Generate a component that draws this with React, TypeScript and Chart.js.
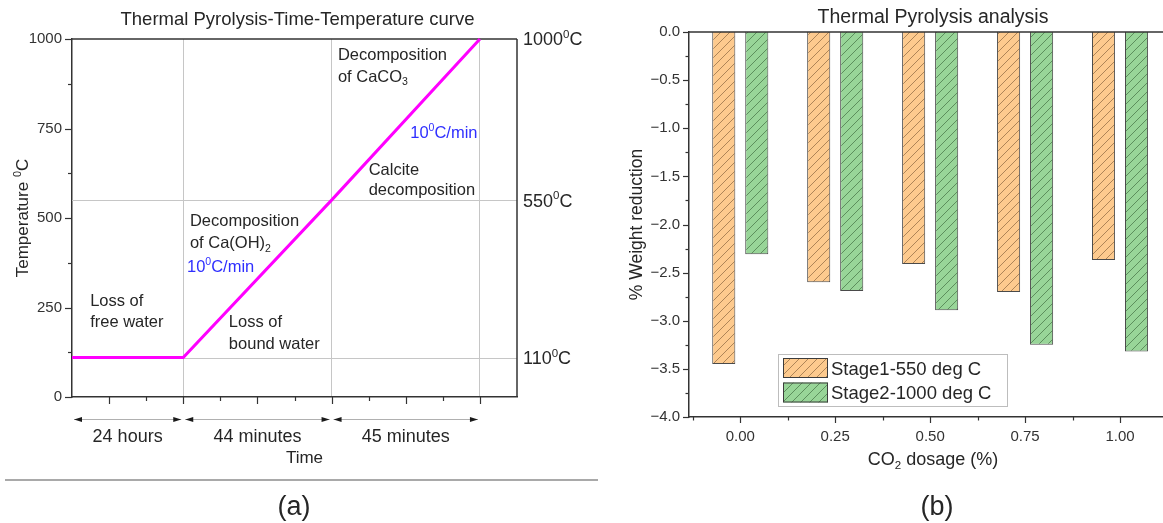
import React, { useEffect, useRef } from 'react';
import { Chart, registerables } from 'chart.js';

Chart.register(...registerables);

const FONT = '"Liberation Sans", Arial, Helvetica, sans-serif';
const INK = '#262626';
const AXIS = '#333333';
const GRID = '#c6c6c6';
const BLUE = '#2f2fff';

// ---------- Panel (a): heating programme ----------
const stageTimes = [0, 3, 7, 11];
const stageTemps = [110, 110, 550, 1000];
const tempTicks = [0, 250, 500, 750, 1000];
const refTemps = [1000, 550, 110];
const timeGrid = [3, 7, 11];
const phaseBounds = [0, 3, 7, 11];
const phaseLabels = ['24 hours', '44 minutes', '45 minutes'];

// ---------- Panel (b): weight reduction ----------
const dosages = [0, 0.25, 0.5, 0.75, 1.0];
const stage1Loss = [-3.45, -2.6, -2.41, -2.7, -2.37];
const stage2Loss = [-2.31, -2.69, -2.89, -3.25, -3.32];
const weightTicks = [0, -0.5, -1, -1.5, -2, -2.5, -3, -3.5, -4];
const seriesNames = ['Stage1-550 deg C', 'Stage2-1000 deg C'];

type Seg = [string, number]; // 0 normal, 1 superscript, -1 subscript

// annotation anchors in data units of panel (a) (left edge, vertical middle)
const notesA: { x: number; y: number; segs: Seg[]; color?: string }[] = [
  { x: 7.17, y: 957, segs: [['Decomposition', 0]] },
  { x: 7.17, y: 897, segs: [['of CaCO', 0], ['3', -1]] },
  { x: 9.12, y: 741, segs: [['10', 0], ['0', 1], ['C/min', 0]], color: BLUE },
  { x: 8.0, y: 637, segs: [['Calcite', 0]] },
  { x: 8.0, y: 581, segs: [['decomposition', 0]] },
  { x: 3.18, y: 494, segs: [['Decomposition', 0]] },
  { x: 3.18, y: 433, segs: [['of Ca(OH)', 0], ['2', -1]] },
  { x: 3.1, y: 365, segs: [['10', 0], ['0', 1], ['C/min', 0]], color: BLUE },
  { x: 0.49, y: 270, segs: [['Loss of', 0]] },
  { x: 0.49, y: 211, segs: [['free water', 0]] },
  { x: 4.23, y: 211, segs: [['Loss of', 0]] },
  { x: 4.23, y: 150, segs: [['bound water', 0]] },
];

function drawRich(
  ctx: CanvasRenderingContext2D,
  segs: Seg[],
  x: number,
  y: number,
  size: number,
  align: 'left' | 'center' | 'right',
  color: string
) {
  const small = size * 0.64;
  const widths = segs.map(([t, m]) => {
    ctx.font = `${m ? small : size}px ${FONT}`;
    return ctx.measureText(t).width;
  });
  const total = widths.reduce((a, b) => a + b, 0);
  let cx = align === 'center' ? x - total / 2 : align === 'right' ? x - total : x;
  const base = y + size * 0.36;
  ctx.fillStyle = color;
  ctx.textAlign = 'left';
  ctx.textBaseline = 'alphabetic';
  segs.forEach(([t, m], i) => {
    ctx.font = `${m ? small : size}px ${FONT}`;
    const by = m === 1 ? base - size * 0.42 : m === -1 ? base + size * 0.22 : base;
    ctx.fillText(t, cx, by);
    cx += widths[i];
  });
}

function line(ctx: CanvasRenderingContext2D, x1: number, y1: number, x2: number, y2: number) {
  ctx.beginPath();
  ctx.moveTo(x1, y1);
  ctx.lineTo(x2, y2);
  ctx.stroke();
}

function arrowHead(ctx: CanvasRenderingContext2D, tipX: number, y: number, dir: number) {
  ctx.beginPath();
  ctx.moveTo(tipX, y);
  ctx.lineTo(tipX - dir * 8, y - 2.6);
  ctx.lineTo(tipX - dir * 8, y + 2.6);
  ctx.closePath();
  ctx.fill();
}

const panelAPlugin = {
  id: 'panelA',
  beforeDatasetsDraw(chart: any) {
    const { ctx, chartArea: ca, scales } = chart;
    const y = scales.y;
    ctx.save();
    ctx.strokeStyle = GRID;
    ctx.lineWidth = 1;
    refTemps.forEach((t) => {
      if (t >= 1000) return;
      const py = Math.round(y.getPixelForValue(t)) + 0.5;
      line(ctx, ca.left, py, ca.right, py);
    });
    ctx.strokeStyle = AXIS;
    ctx.lineWidth = 1.5;
    line(ctx, ca.left, ca.top, ca.right, ca.top);
    line(ctx, ca.right, ca.top, ca.right, ca.bottom);
    ctx.restore();
  },
  afterDraw(chart: any) {
    const { ctx, chartArea: ca, scales } = chart;
    const x = scales.x;
    const y = scales.y;
    ctx.save();
    // tick marks
    ctx.strokeStyle = AXIS;
    ctx.lineWidth = 1.2;
    for (let v = 1; v <= 11; v++) {
      const px = Math.round(x.getPixelForValue(v)) + 0.5;
      line(ctx, px, ca.bottom, px, ca.bottom + (v % 2 === 1 ? 7 : 4));
    }
    for (let v = 0; v <= 1000; v += 125) {
      const py = Math.round(y.getPixelForValue(v)) + 0.5;
      line(ctx, ca.left, py, ca.left - (v % 250 === 0 ? 7 : 4), py);
    }
    // title
    drawRich(ctx, [['Thermal Pyrolysis-Time-Temperature curve', 0]], (ca.left + ca.right) / 2 + 3, 18, 18.5, 'center', INK);
    // y title
    ctx.save();
    ctx.translate(22, (ca.top + ca.bottom) / 2);
    ctx.rotate(-Math.PI / 2);
    drawRich(ctx, [['Temperature ', 0], ['0', 1], ['C', 0]], 0, 0, 17, 'center', INK);
    ctx.restore();
    // right-hand reference labels
    refTemps.forEach((t) => {
      drawRich(ctx, [[String(t), 0], ['0', 1], ['C', 0]], ca.right + 6, y.getPixelForValue(t), 18, 'left', INK);
    });
    // annotations
    notesA.forEach((n) => {
      drawRich(ctx, n.segs, x.getPixelForValue(n.x), y.getPixelForValue(n.y), 16.5, 'left', n.color || INK);
    });
    // phase arrows
    const ay = ca.bottom + 22;
    for (let i = 0; i < phaseLabels.length; i++) {
      const x1 = x.getPixelForValue(phaseBounds[i]) + 2;
      const x2 = x.getPixelForValue(phaseBounds[i + 1]) - 2;
      ctx.strokeStyle = '#b0b0b0';
      ctx.lineWidth = 1;
      line(ctx, x1, ay + 0.5, x2, ay + 0.5);
      ctx.fillStyle = '#1a1a1a';
      arrowHead(ctx, x1, ay + 0.5, -1);
      arrowHead(ctx, x2, ay + 0.5, 1);
      drawRich(ctx, [[phaseLabels[i], 0]], (x1 + x2) / 2, ca.bottom + 39, 18, 'center', INK);
    }
    drawRich(ctx, [['Time', 0]], (ca.left + ca.right) / 2 + 10, ca.bottom + 60, 17, 'center', INK);
    // separator and panel tag
    ctx.strokeStyle = '#8c8c8c';
    ctx.lineWidth = 1.5;
    line(ctx, 5, 480, 598, 480);
    drawRich(ctx, [['(a)', 0]], 294, 505, 27, 'center', INK);
    ctx.restore();
  },
};

const panelBPlugin = {
  id: 'panelB',
  afterDraw(chart: any) {
    const { ctx, chartArea: ca, scales } = chart;
    const x = scales.x;
    const y = scales.y;
    ctx.save();
    ctx.strokeStyle = AXIS;
    ctx.lineWidth = 1.5;
    line(ctx, ca.left, ca.top, ca.right, ca.top);
    ctx.lineWidth = 1.2;
    for (let v = 0; v >= -4; v -= 0.25) {
      const py = Math.round(y.getPixelForValue(v)) + 0.5;
      const major = Math.abs(v * 2 - Math.round(v * 2)) < 1e-6;
      line(ctx, ca.left, py, ca.left - (major ? 6 : 3.5), py);
    }
    for (let v = -0.125; v <= 1.13; v += 0.125) {
      const px = Math.round(x.getPixelForValue(v)) + 0.5;
      const major = Math.abs(v * 4 - Math.round(v * 4)) < 1e-6;
      line(ctx, px, ca.bottom, px, ca.bottom + (major ? 6 : 3.5));
    }
    const cx = (ca.left + ca.right) / 2;
    drawRich(ctx, [['Thermal Pyrolysis analysis', 0]], cx, 16, 19.5, 'center', INK);
    ctx.save();
    ctx.translate(36, (ca.top + ca.bottom) / 2);
    ctx.rotate(-Math.PI / 2);
    drawRich(ctx, [['% Weight reduction', 0]], 0, 0, 17.5, 'center', INK);
    ctx.restore();
    drawRich(ctx, [['CO', 0], ['2', -1], [' dosage (%)', 0]], cx, ca.bottom + 42, 18, 'center', INK);
    drawRich(ctx, [['(b)', 0]], cx + 4, 505, 27, 'center', INK);

    // legend
    const lx = ca.left + 89;
    const ly = 354;
    ctx.fillStyle = '#ffffff';
    ctx.fillRect(lx, ly, 229, 52);
    ctx.strokeStyle = '#bdbdbd';
    ctx.lineWidth = 1;
    ctx.strokeRect(lx + 0.5, ly + 0.5, 229, 52);
    chart.data.datasets.forEach((ds: any, i: number) => {
      const ry = ly + 4 + i * 24.5;
      ctx.fillStyle = ds.backgroundColor;
      ctx.fillRect(lx + 5, ry, 45, 20);
      ctx.strokeStyle = '#3c3c3c';
      ctx.lineWidth = 1;
      ctx.strokeRect(lx + 5.5, ry + 0.5, 44, 19);
      drawRich(ctx, [[ds.label, 0]], lx + 53, ry + 10, 18.5, 'left', INK);
    });
    ctx.restore();
  },
};

function hatch(target: CanvasRenderingContext2D, fill: string, stroke: string) {
  const s = 9;
  const c = document.createElement('canvas');
  c.width = s;
  c.height = s;
  const g = c.getContext('2d')!;
  g.fillStyle = fill;
  g.fillRect(0, 0, s, s);
  g.strokeStyle = stroke;
  g.lineWidth = 0.9;
  g.beginPath();
  g.moveTo(0, s);
  g.lineTo(s, 0);
  g.moveTo(-1, 1);
  g.lineTo(1, -1);
  g.moveTo(s - 1, s + 1);
  g.lineTo(s + 1, s - 1);
  g.stroke();
  return target.createPattern(c, 'repeat')!;
}

function PanelA() {
  const ref = useRef<HTMLCanvasElement>(null);
  useEffect(() => {
    const chart = new Chart(ref.current!, {
      type: 'line',
      data: {
        datasets: [
          {
            data: stageTimes.map((t, i) => ({ x: t, y: stageTemps[i] })),
            borderColor: '#ff00ff',
            borderWidth: 3,
            pointRadius: 0,
            tension: 0,
            fill: false,
            clip: 6,
          } as any,
        ],
      },
      options: {
        responsive: false,
        animation: false,
        events: [],
        layout: { padding: { top: 39, right: 83, left: 0, bottom: 0 } },
        plugins: { legend: { display: false }, tooltip: { enabled: false }, title: { display: false } },
        scales: {
          x: {
            type: 'linear',
            min: 0,
            max: 12,
            afterBuildTicks: (s: any) => {
              s.ticks = timeGrid.map((v) => ({ value: v }));
            },
            afterFit: (s: any) => {
              s.height = 126;
            },
            ticks: { display: false },
            grid: { color: GRID, lineWidth: 1, drawTicks: false },
            border: { display: true, color: AXIS, width: 1.5 },
          },
          y: {
            type: 'linear',
            min: 0,
            max: 1000,
            afterBuildTicks: (s: any) => {
              s.ticks = tempTicks.map((v) => ({ value: v }));
            },
            afterFit: (s: any) => {
              s.width = 72;
            },
            ticks: {
              callback: (v: any) => String(Math.round(Number(v))),
              font: { family: FONT, size: 15 },
              color: '#333',
              padding: 10,
            },
            grid: { display: false, drawTicks: false },
            border: { display: true, color: AXIS, width: 1.5 },
          },
        },
      } as any,
      plugins: [panelAPlugin],
    });
    return () => chart.destroy();
  }, []);
  return <canvas ref={ref} width={600} height={523} style={{ position: 'absolute', left: 0, top: 0 }} />;
}

function PanelB() {
  const ref = useRef<HTMLCanvasElement>(null);
  useEffect(() => {
    const ctx = ref.current!.getContext('2d')!;
    const orange = hatch(ctx, '#fdca8e', 'rgba(90,60,30,0.55)');
    const green = hatch(ctx, '#98d598', 'rgba(30,70,30,0.55)');
    const chart = new Chart(ref.current!, {
      type: 'bar',
      data: {
        datasets: [
          {
            label: seriesNames[0],
            data: dosages.map((d, i) => ({ x: d, y: stage1Loss[i] })),
            backgroundColor: orange,
            borderColor: '#4a4a4a',
            borderWidth: 1,
            categoryPercentage: 0.695,
            barPercentage: 0.7,
          } as any,
          {
            label: seriesNames[1],
            data: dosages.map((d, i) => ({ x: d, y: stage2Loss[i] })),
            backgroundColor: green,
            borderColor: '#4a4a4a',
            borderWidth: 1,
            categoryPercentage: 0.695,
            barPercentage: 0.7,
          } as any,
        ],
      },
      options: {
        responsive: false,
        animation: false,
        events: [],
        layout: { padding: { top: 32, right: 23, left: 0, bottom: 0 } },
        plugins: { legend: { display: false }, tooltip: { enabled: false }, title: { display: false } },
        scales: {
          x: {
            type: 'linear',
            min: -0.135,
            max: 1.15,
            offset: false,
            afterBuildTicks: (s: any) => {
              s.ticks = dosages.map((v) => ({ value: v }));
            },
            afterFit: (s: any) => {
              s.height = 106;
            },
            ticks: {
              callback: (v: any) => Number(v).toFixed(2),
              font: { family: FONT, size: 15 },
              color: '#333',
              padding: 11,
              maxRotation: 0,
              autoSkip: false,
            },
            grid: { display: false, drawTicks: false },
            border: { display: true, color: AXIS, width: 1.5 },
          },
          y: {
            type: 'linear',
            min: -4,
            max: 0,
            afterBuildTicks: (s: any) => {
              s.ticks = weightTicks.map((v) => ({ value: v }));
            },
            afterFit: (s: any) => {
              s.width = 89;
            },
            ticks: {
              callback: (v: any) => (Number(v) === 0 ? '0.0' : '\u2212' + Math.abs(Number(v)).toFixed(1)),
              font: { family: FONT, size: 15 },
              color: '#333',
              padding: 9,
            },
            grid: { display: false, drawTicks: false },
            border: { display: true, color: AXIS, width: 1.5 },
          },
        },
      } as any,
      plugins: [panelBPlugin],
    });
    return () => chart.destroy();
  }, []);
  return <canvas ref={ref} width={600} height={523} style={{ position: 'absolute', left: 600, top: 0 }} />;
}

export default function App() {
  return (
    <div
      style={{
        position: 'absolute',
        left: 0,
        top: 0,
        width: 1163,
        height: 523,
        overflow: 'hidden',
        background: '#ffffff',
      }}
    >
      <PanelA />
      <PanelB />
    </div>
  );
}
